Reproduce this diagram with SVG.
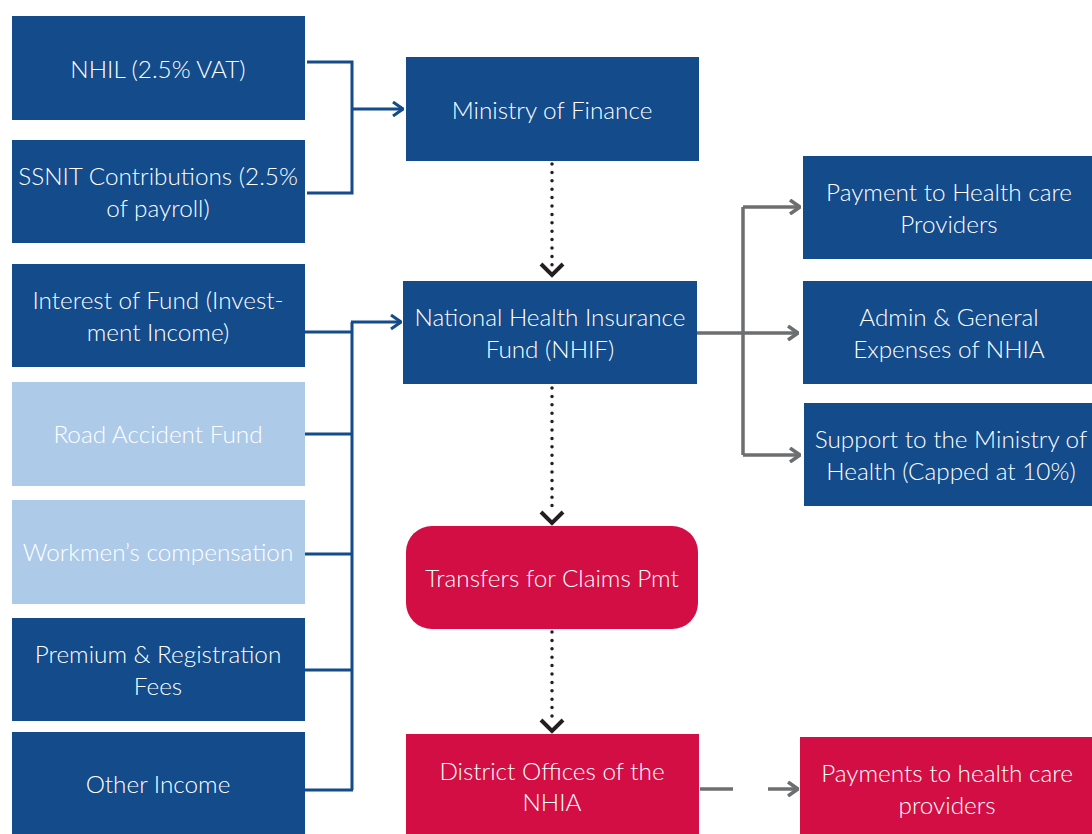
<svg xmlns="http://www.w3.org/2000/svg" width="1092" height="834" viewBox="0 0 1092 834">
<defs>
<style>
.b{fill:#134b8b}
.l{fill:#aecae9}
.r{fill:#d30e45}
text{font-family:Lato,"Open Sans","Liberation Sans",sans-serif;font-weight:300;font-size:24.3px;fill:#fff;text-anchor:middle}
.cb{fill:none;stroke:#134b8b;stroke-width:3}
.cg{fill:none;stroke:#6d6e70;stroke-width:3.5}
.cd{fill:none;stroke:#231f20;stroke-width:3.5;stroke-dasharray:0 8.4;stroke-linecap:round}
.ch{fill:none;stroke:#231f20;stroke-width:4}
</style>
<marker id="ab" viewBox="0 0 12 16" refX="11" refY="8" markerWidth="12" markerHeight="16" markerUnits="userSpaceOnUse" orient="auto"><path d="M1 1 L11 8 L1 15" fill="none" stroke="#134b8b" stroke-width="3"/></marker>
<marker id="ag" viewBox="0 0 12 16" refX="11" refY="8" markerWidth="12" markerHeight="16" markerUnits="userSpaceOnUse" orient="auto"><path d="M1 1 L11 8 L1 15" fill="none" stroke="#6d6e70" stroke-width="3.5"/></marker>
</defs>
<rect width="1092" height="834" fill="#fff"/>
<g id="nhil"><rect class="b" x="12" y="16" width="293" height="104"/><text x="158" y="78">NHIL (2.5% VAT)</text></g>
<g id="ssnit"><rect class="b" x="12" y="140" width="293" height="103"/><text x="158" y="185">SSNIT Contributions (2.5%</text><text x="158" y="217">of payroll)</text></g>
<g id="interest"><rect class="b" x="12" y="264" width="293" height="103"/><text x="158" y="309">Interest of Fund (Invest-</text><text x="158" y="341">ment Income)</text></g>
<g id="road"><rect class="l" x="12" y="382" width="293" height="104"/><text x="158" y="443">Road Accident Fund</text></g>
<g id="workmen"><rect class="l" x="12" y="500" width="293" height="104"/><text x="158" y="561">Workmen’s compensation</text></g>
<g id="premium"><rect class="b" x="12" y="618" width="293" height="103"/><text x="158" y="663">Premium &amp; Registration</text><text x="158" y="695">Fees</text></g>
<g id="other"><rect class="b" x="12" y="732" width="293" height="104"/><text x="158" y="793">Other Income</text></g>
<g id="mof"><rect class="b" x="406" y="57" width="293" height="104"/><text x="552" y="119">Ministry of Finance</text></g>
<g id="nhif"><rect class="b" x="403" y="281" width="294" height="103"/><text x="550" y="326">National Health Insurance</text><text x="550" y="358">Fund (NHIF)</text></g>
<g id="transfers"><rect class="r" x="406" y="526" width="292" height="103" rx="26"/><text x="552" y="587">Transfers for Claims Pmt</text></g>
<g id="district"><rect class="r" x="406" y="734" width="293" height="102"/><text x="552" y="780">District Offices of the</text><text x="552" y="811">NHIA</text></g>
<g id="payment"><rect class="b" x="803" y="156" width="291" height="103"/><text x="949" y="201">Payment to Health care</text><text x="949" y="233">Providers</text></g>
<g id="admin"><rect class="b" x="803" y="281" width="291" height="103"/><text x="949" y="326">Admin &amp; General</text><text x="949" y="358">Expenses of NHIA</text></g>
<g id="support"><rect class="b" x="804" y="403" width="290" height="103"/><text x="951" y="448">Support to the Ministry of</text><text x="951" y="480">Health (Capped at 10%)</text></g>
<g id="payments"><rect class="r" x="800" y="737" width="294" height="99"/><text x="947" y="782">Payments to health care</text><text x="947" y="814">providers</text></g>
<g id="connectors">
<path class="cb" d="M307 62 H352 V193 H307"/>
<path class="cb" d="M352 109 H403" marker-end="url(#ab)"/>
<path class="cb" d="M305 332 H352 M305 434 H352 M305 554 H352 M305 670 H352 M305 790 H353 M352 790 V322"/>
<path class="cb" d="M351 322 H401" marker-end="url(#ab)"/>
<path class="cg" d="M697 333 H798" marker-end="url(#ag)"/>
<path class="cg" d="M743 207 V455"/>
<path class="cg" d="M743 207 H800" marker-end="url(#ag)"/>
<path class="cg" d="M743 455 H800" marker-end="url(#ag)"/>
<path class="cg" d="M700 789 H733"/>
<path class="cg" d="M768 789 H798" marker-end="url(#ag)"/>
<path class="cd" d="M552 164 V268"/>
<path class="cd" d="M552 388 V510"/>
<path class="cd" d="M552 632 V718"/>
<path class="ch" d="M541 264 L552 275 L563 264"/>
<path class="ch" d="M541 512 L552 523 L563 512"/>
<path class="ch" d="M541 720 L552 731 L563 720"/>
</g>
</svg>
